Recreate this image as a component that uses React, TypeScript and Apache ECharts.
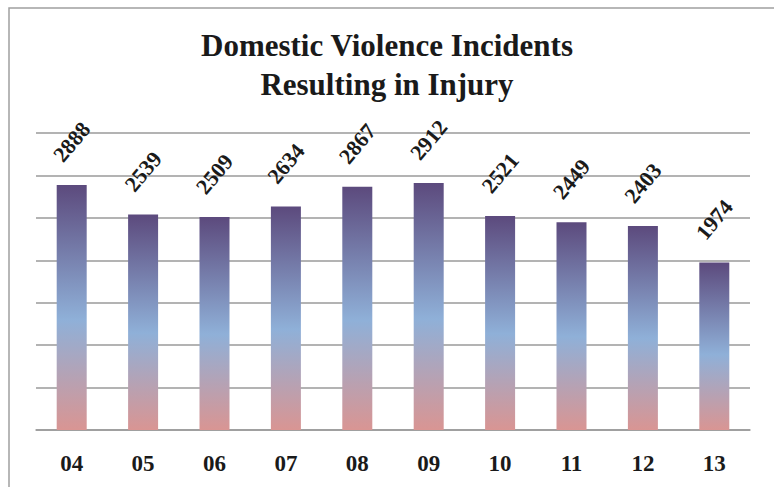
import React, { useEffect, useRef } from "react";
import * as echarts from "echarts";

const categories = ["04", "05", "06", "07", "08", "09", "10", "11", "12", "13"];
const incidents = [2888, 2539, 2509, 2634, 2867, 2912, 2521, 2449, 2403, 1974];
const yMax = 3500;
const yInterval = 500;

const FONT = '"Liberation Serif", "Times New Roman", serif';

export default function App() {
  const ref = useRef<HTMLDivElement>(null);
  useEffect(() => {
    if (!ref.current) return;
    const chart = echarts.init(ref.current, null, { renderer: "svg" });
    chart.setOption({
      animation: false,
      backgroundColor: "#ffffff",
      title: {
        text: "Domestic Violence Incidents\nResulting in Injury",
        left: "center",
        top: 21,
        textStyle: {
          fontFamily: FONT,
          fontWeight: "bold",
          fontSize: 31,
          lineHeight: 39,
          color: "#1a1a1a",
        },
      },
      graphic: [
        {
          type: "rect",
          shape: { x: 9, y: 8, width: 800, height: 520 },
          style: { fill: "none", stroke: "#a0a0a0", lineWidth: 1.5 },
          z: -1,
        },
      ],
      grid: { left: 36, right: 24, top: 133, bottom: 57 },
      xAxis: {
        type: "category",
        data: categories,
        axisLine: { show: true, lineStyle: { color: "#9a9a9a", width: 1.5 } },
        axisTick: { show: false },
        axisLabel: {
          fontFamily: FONT,
          fontWeight: "bold",
          fontSize: 23,
          color: "#1a1a1a",
          margin: 22,
        },
      },
      yAxis: {
        type: "value",
        min: 0,
        max: yMax,
        interval: yInterval,
        axisLabel: { show: false },
        axisLine: { show: false },
        axisTick: { show: false },
        splitLine: { lineStyle: { color: "#9a9a9a", width: 1.5 } },
      },
      series: [
        {
          type: "bar",
          data: incidents,
          barWidth: 30,
          itemStyle: {
            color: new echarts.graphic.LinearGradient(0, 0, 0, 1, [
              { offset: 0, color: "#5c4a7d" },
              { offset: 0.55, color: "#8fb0d8" },
              { offset: 1, color: "#d99593" },
            ]),
          },
          label: {
            show: true,
            position: "top",
            distance: 43,
            rotate: 50,
            align: "center",
            verticalAlign: "middle",
            fontFamily: FONT,
            fontWeight: "bold",
            fontSize: 22,
            color: "#1a1a1a",
          },
        },
      ],
    });
    return () => chart.dispose();
  }, []);
  return (
    <div
      ref={ref}
      style={{ position: "fixed", left: 0, top: 0, width: 774, height: 487 }}
    />
  );
}
